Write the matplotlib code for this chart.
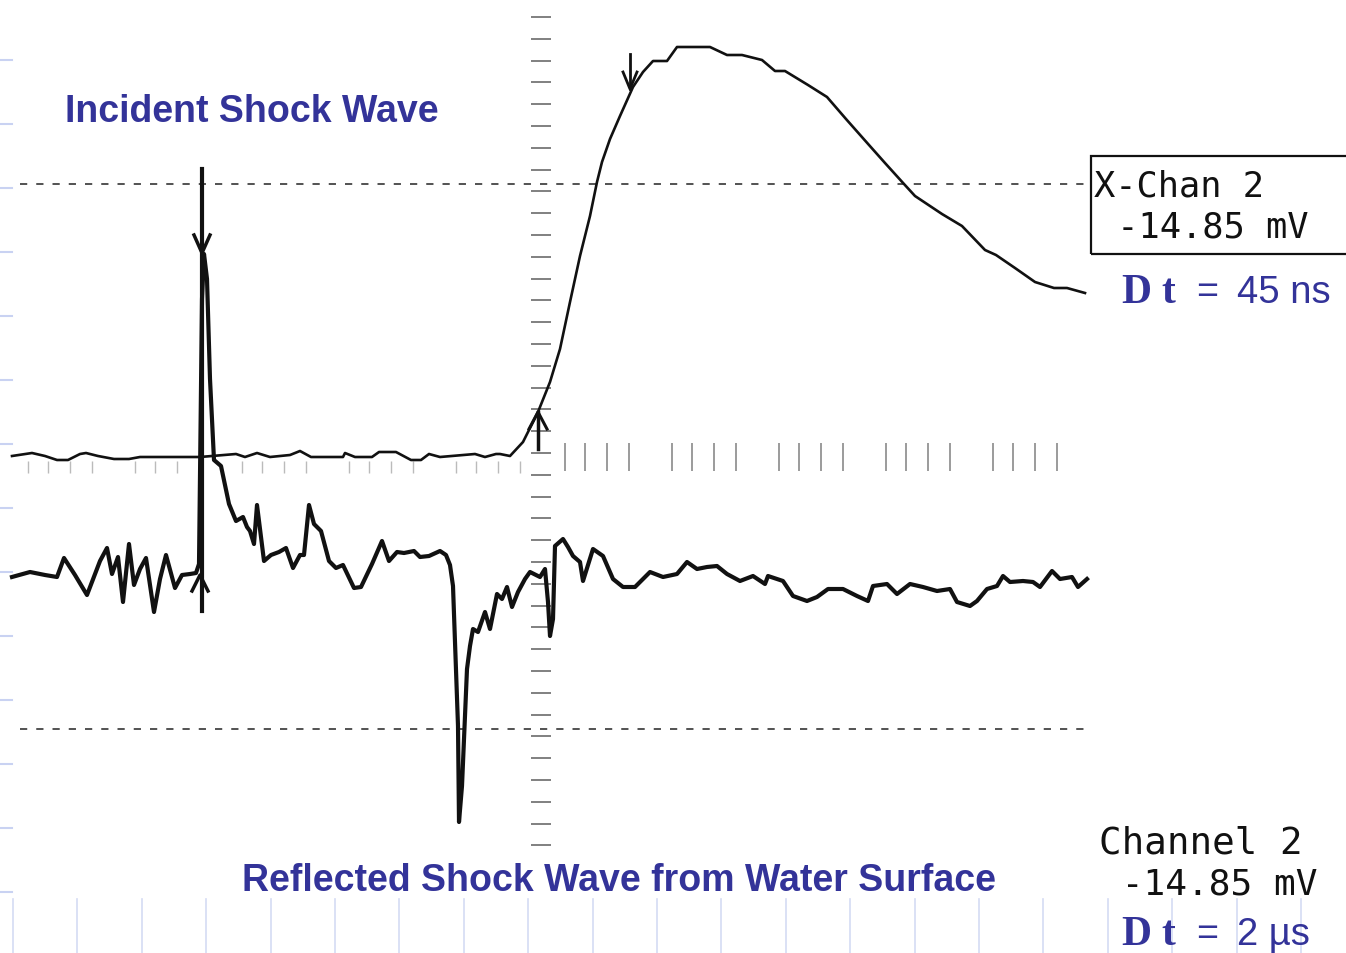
import numpy as np
import matplotlib.pyplot as plt
from matplotlib.patches import Rectangle

# screen position along the sweep (x) and deflection above the baseline
top_x = [12, 32, 45, 57, 68, 80, 86, 98, 114, 129, 140, 179, 200, 236, 245, 257, 270, 290,
         300, 311, 343, 345, 355, 372, 379, 396, 411, 421, 429, 440, 475, 485, 496, 500,
         510, 523, 538, 550, 560, 570, 580, 590, 597, 602, 610, 620, 633, 643, 653, 667,
         677, 710, 727, 742, 762, 775, 785, 808, 827, 846, 869, 885, 904, 915, 942, 962,
         985, 996, 1015, 1035, 1054, 1067, 1085]
top_v = [1, 4, 1, -3, -3, 3, 4, 1, -2, -2, 0, 0, 0, 3, 0, 4, 0, 2,
         6, 0, 0, 4, 0, 0, 5, 5, -3, -3, 3, 0, 3, 0, 3, 3,
         1, 15, 45, 75, 108, 155, 201, 241, 275, 295, 318, 341, 370, 385, 396, 396,
         410, 410, 402, 402, 397, 386, 386, 372, 360, 338, 312, 294, 273, 261, 243, 231,
         207, 202, 189, 175, 169, 169, 164]

bot_x = [12, 30, 45, 57, 64, 75, 87, 95, 100, 107, 112, 118, 123, 129, 134, 140, 146, 154,
         160, 166, 175, 182, 190, 196, 199, 202, 204, 207, 210, 214, 221, 229, 236, 243,
         247, 250, 254, 257, 264, 271, 279, 286, 293, 300, 304, 309, 314, 321, 329, 336,
         343, 354, 361, 372, 382, 389, 397, 404, 414, 420, 429, 440, 446, 450, 453, 458,
         459, 462, 467, 470, 473, 478, 485, 490, 497, 502, 507, 512, 518, 525, 530, 540,
         545, 548, 550, 553, 555, 563, 568, 573, 580, 583, 593, 603, 613, 623, 635, 650,
         663, 677, 687, 697, 707, 717, 727, 740, 753, 765, 768, 783, 793, 807, 817, 828,
         843, 857, 868, 873, 887, 897, 910, 923, 937, 950, 957, 970, 977, 987, 997, 1003,
         1010, 1023, 1033, 1040, 1052, 1060, 1072, 1078, 1087]
bot_v = [-120, -115, -118, -120, -101, -118, -138, -117, -104, -91, -117, -100, -145, -87,
         -128, -112, -101, -155, -122, -98, -131, -118, -117, -116, -107, 158, 203, 178, 78,
         -3, -9, -47, -64, -60, -70, -74, -87, -48, -104, -98, -95, -91, -111, -98, -98,
         -48, -67, -74, -104, -111, -108, -131, -130, -107, -84, -104, -95, -96, -94, -100,
         -99, -94, -98, -108, -129, -269, -365, -329, -212, -189, -172, -175, -155, -172,
         -137, -142, -130, -150, -135, -122, -115, -120, -112, -145, -179, -162, -89, -82,
         -90, -99, -105, -124, -92, -99, -122, -130, -130, -115,
         -120, -117, -105, -112, -110, -109, -117, -124, -119, -127, -119, -124, -139, -144,
         -140, -132, -132, -139, -144, -129, -127, -137, -127, -130, -134, -132, -145, -149,
         -144, -132, -129, -119, -125, -124, -125, -130, -114, -122, -120, -130, -122]

dash_levels = [273, -272]
label_top = ["X-Chan 2", "-14.85 mV"]
label_bot = ["Channel 2", "-14.85 mV"]
dt_top = "45 ns"
dt_bot = "2 \u00b5s"

navy = "#333399"
ink = "#111111"

fig = plt.figure(figsize=(13.46, 9.54), dpi=100)
ax = fig.add_axes([0, 0, 1, 1])
ax.set_xlim(0, 1346)
ax.set_ylim(-496, 458)
ax.axis("off")

# slide decoration (light blue)
for xv in np.arange(13, 1346, 64.4):
    ax.plot([xv, xv], [-442, -496], color="#d4dbf3", lw=1.2)
for yv in np.arange(397, -440, -64):
    ax.plot([0, 12], [yv, yv], color="#c9d2f2", lw=1.5)

# graticule
for lv in dash_levels:
    ax.plot([20, 1085], [lv, lv], color="#444444", lw=1.3, ls=(0, (4, 5)))
tick_y = np.arange(440, -390, -21.8)
ax.plot(np.full(len(tick_y), 541), tick_y, ls="none", marker="_", ms=14, mew=1.4,
        color="#808080")
grp = np.array([0, 20, 42, 64])
bx = np.concatenate([565 + 107 * k + grp for k in range(5)])
ax.plot(bx, np.zeros(len(bx)), ls="none", marker="|", ms=20, mew=1.1, color="#808080")
lx = np.concatenate([28 + 107 * k + grp for k in range(5)])
ax.plot(lx, np.full(len(lx), -10), ls="none", marker="|", ms=8, mew=1, color="#bbbbbb")

# traces
ax.plot(top_x, top_v, color=ink, lw=1.9, solid_joinstyle="round")
ax.plot(bot_x, bot_v, color=ink, lw=3.0, solid_joinstyle="round")

# cursor marks
ax.plot([202, 202], [288, -154], color=ink, lw=3)
ax.plot([194, 202, 210], [222, 204, 222], color=ink, lw=2.5)
ax.plot([192, 200, 208], [-134, -118, -134], color=ink, lw=2.5)
ax.plot([538, 538], [8, 45], color=ink, lw=2.5)
ax.plot([529, 538, 547], [28, 45, 28], color=ink, lw=2.2)
ax.plot([630, 630], [403, 368], color=ink, lw=2)
ax.plot([623, 630, 637], [385, 368, 385], color=ink, lw=2)

# labels
ax.text(65, 346, "Incident Shock Wave", color=navy, fontsize=27, fontweight="bold",
        family="Liberation Sans", va="center", ha="left")
ax.text(242, -423, "Reflected Shock Wave from Water Surface", color=navy, fontsize=27,
        fontweight="bold", family="Liberation Sans", va="center", ha="left")

ax.add_patch(Rectangle((1091, 203), 270, 98, fill=False, ec=ink, lw=1.6, clip_on=False))
ax.text(1094, 271, label_top[0], family="DejaVu Sans Mono", fontsize=25.5, va="center",
        color=ink)
ax.text(1096, 230, " " + label_top[1], family="DejaVu Sans Mono", fontsize=25.5,
        va="center", color=ink)
ax.text(1099, -386, label_bot[0], family="DejaVu Sans Mono", fontsize=27, va="center",
        color=ink)
ax.text(1100, -427, " " + label_bot[1], family="DejaVu Sans Mono", fontsize=26,
        va="center", color=ink)

for base, dt in [(155, dt_top), (-487, dt_bot)]:
    ax.text(1121, base, "D", family="Liberation Serif", fontweight="bold", fontsize=30,
            color=navy, va="baseline")
    ax.text(1161, base, "t", family="Liberation Serif", fontweight="bold", fontsize=30,
            color=navy, va="baseline")
    ax.text(1196, base, "=", family="Liberation Sans", fontsize=27, color=navy,
            va="baseline")
    ax.text(1237, base, dt, family="Liberation Sans", fontsize=27.5, color=navy,
            va="baseline")

fig.savefig("out.png", dpi=100, facecolor="white")
